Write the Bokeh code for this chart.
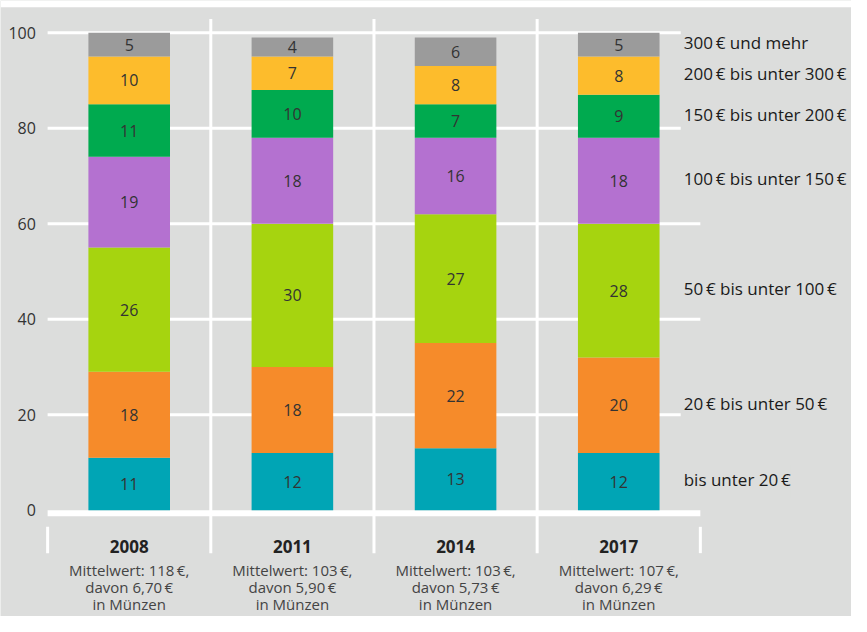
import numpy as np
from bokeh.plotting import figure
from bokeh.models import Range1d, ColumnDataSource
from bokeh.core.properties import value
from bokeh.embed import file_html
from bokeh.resources import INLINE

# ---------------- data ----------------
years = ["2008", "2011", "2014", "2017"]
mean_values = ["118", "103", "103", "107"]
coin_values = ["6,70", "5,90", "5,73", "6,29"]

series_labels = [
    "bis unter 20\u2009€",
    "20\u2009€ bis unter 50\u2009€",
    "50\u2009€ bis unter 100\u2009€",
    "100\u2009€ bis unter 150\u2009€",
    "150\u2009€ bis unter 200\u2009€",
    "200\u2009€ bis unter 300\u2009€",
    "300\u2009€ und mehr",
]
s_lt20 = [11, 12, 13, 12]
s_20_50 = [18, 18, 22, 20]
s_50_100 = [26, 30, 27, 28]
s_100_150 = [19, 18, 16, 18]
s_150_200 = [11, 10, 7, 9]
s_200_300 = [10, 7, 8, 8]
s_300 = [5, 4, 6, 5]
y_ticks = [0, 20, 40, 60, 80, 100]

series = [s_lt20, s_20_50, s_50_100, s_100_150, s_150_200, s_200_300, s_300]
colors = ["#00a5b5", "#f68b2a", "#a6d40f", "#b471d0", "#00aa4f", "#fdbc2c", "#9b9b9b"]

BG = "#dcdddc"
FONT = "Open Sans"

# ---------------- layout ----------------
W, H = 851, 616
SX, SY = W / 867, H / 632          # reference-pixel -> canvas-pixel
CAT_L, CAT_R = 48 * SX, 713 * SX    # category area (canvas px)
ZERO, HUNDRED = 523 * SY, 33 * SY   # y of 0 and 100 (canvas px, from top)
n = len(years)
X_PX = (CAT_R - CAT_L) / n
Y_PX = (ZERO - HUNDRED) / 100

def px_x(rx):
    return (rx * SX - CAT_L) / X_PX

def px_y(ry):
    return (ZERO - ry * SY) / Y_PX

p = figure(width=W, height=H,
           x_range=Range1d(-CAT_L / X_PX, (W - CAT_L) / X_PX),
           y_range=Range1d((ZERO - H) / Y_PX, ZERO / Y_PX),
           output_backend="svg", toolbar_location=None,
           min_border=0, background_fill_color=BG, border_fill_color=BG,
           outline_line_color=None)
p.xaxis.visible = False
p.yaxis.visible = False
p.xgrid.visible = False
p.ygrid.visible = False

# white strip at the top
p.quad(left=px_x(0), right=px_x(867), top=px_y(0), bottom=px_y(7),
       fill_color="white", line_color=None)

# grid lines
p.segment(x0=0, x1=n, y0=y_ticks[1:], y1=y_ticks[1:], line_color="white", line_width=3)
p.segment(x0=0, x1=n, y0=-3 / Y_PX, y1=-3 / Y_PX, line_color="white", line_width=6)
# vertical separators
seps = list(range(1, n))
p.segment(x0=seps, x1=seps, y0=px_y(19), y1=px_y(567), line_color="white", line_width=3)
p.segment(x0=[0, n], x1=[0, n], y0=px_y(540), y1=px_y(567), line_color="white", line_width=3)

# bars
xs = [i + 0.5 for i in range(n)]
data = {"x": xs}
keys = []
for k, s in enumerate(series):
    data[f"s{k}"] = s
    keys.append(f"s{k}")
src = ColumnDataSource(data)
p.vbar_stack(keys, x="x", width=0.5, color=colors, line_color=None, source=src)

# value labels
arr = np.array(series, dtype=float)
tops = np.cumsum(arr, axis=0)
mids = tops - arr / 2
lx, ly, lt = [], [], []
for k in range(arr.shape[0]):
    for i in range(n):
        lx.append(xs[i]); ly.append(mids[k, i]); lt.append(str(series[k][i]))
p.text(x=lx, y=ly, text=lt, text_align="center", text_baseline="middle",
       text_font=value(FONT), text_font_size="16px", text_color="#333333")

# y tick labels
p.text(x=px_x(36), y=y_ticks, text=[str(t) for t in y_ticks], text_align="right",
       text_baseline="middle", text_font=value(FONT), text_font_size="16px",
       text_color="#333333")

# series labels on the right (at last bar's segment middles)
p.text(x=px_x(693), y=list(mids[:, -1]), text=series_labels, text_align="left",
       text_baseline="middle", text_font=value(FONT), text_font_size="17px",
       text_color="#1a1a1a", background_fill_color=BG, padding=[3, 0, 3, 7])

# year labels
p.text(x=xs, y=px_y(560), text=years, text_align="center", text_baseline="middle",
       text_font=value(FONT), text_font_size="17px", text_font_style="bold",
       text_color="#222222")
p.text(x=xs, y=px_y(584), text=[f"Mittelwert: {m}\u2009€," for m in mean_values],
       text_align="center", text_baseline="middle", text_font=value(FONT),
       text_font_size="15px", text_color="#444444")
p.text(x=xs, y=px_y(602), text=[f"davon {c}\u2009€" for c in coin_values],
       text_align="center", text_baseline="middle", text_font=value(FONT),
       text_font_size="15px", text_color="#444444")
p.text(x=xs, y=px_y(619), text=["in Münzen"] * n,
       text_align="center", text_baseline="middle", text_font=value(FONT),
       text_font_size="15px", text_color="#444444")

open("out.html", "w").write(file_html(p, INLINE))
